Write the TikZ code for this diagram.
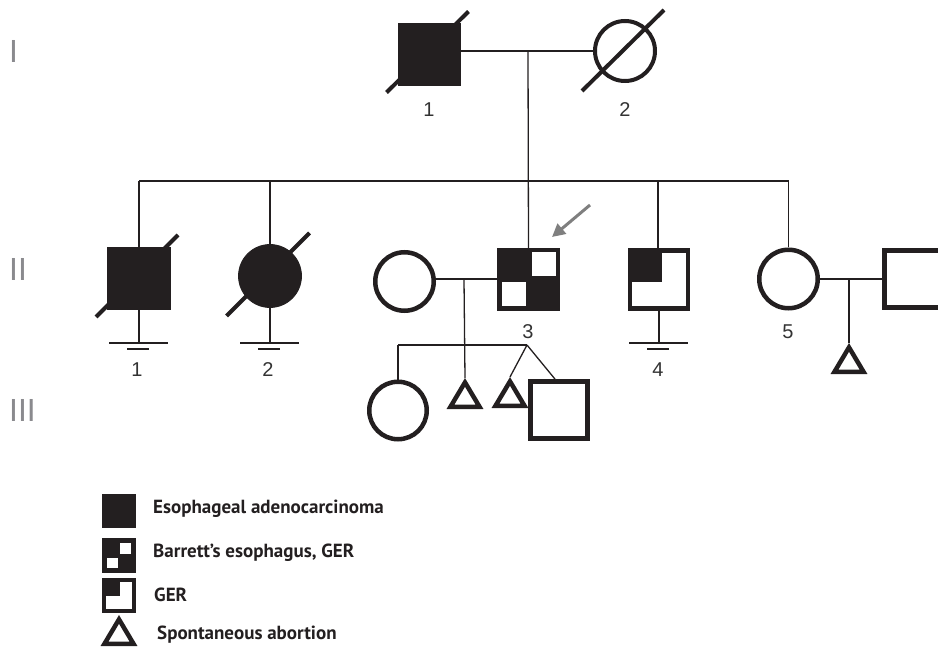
\documentclass[tikz,border=0pt]{standalone}
\usepackage{fontspec}
\usetikzlibrary{calc,arrows.meta}
\newfontfamily\lsans{Liberation Sans}
\newfontfamily\ptsans{PT Sans}
\definecolor{ink}{HTML}{231F20}
\definecolor{gengray}{HTML}{8A8A8E}
\definecolor{numgray}{HTML}{333333}
\definecolor{arrgray}{HTML}{7F7F7F}
\tikzset{
  conn/.style={draw=ink, line width=1.3pt},
  sqthick/.style={rectangle, draw=ink, line width=4.8pt, minimum size=58pt, inner sep=0pt, fill=white},
  sqfill/.style={rectangle, draw=ink, fill=ink, line width=0.8pt, minimum size=62.5pt, inner sep=0pt},
  cithick/.style={circle, draw=ink, line width=4.5pt, minimum size=58.5pt, inner sep=0pt, fill=white},
  cifill/.style={circle, draw=ink, fill=ink, line width=0.8pt, minimum size=63pt, inner sep=0pt},
  slashline/.style={draw=ink, line width=4pt},
  numlbl/.style={font=\lsans\fontsize{20}{22}\selectfont, text=numgray, inner sep=0pt},
  genlbl/.style={font=\lsans\fontsize{32}{34}\selectfont, text=gengray, inner sep=0pt, anchor=west},
  leglbl/.style={font=\ptsans\bfseries\fontsize{19}{21}\selectfont, text=ink, inner sep=0pt, anchor=west},
  abort/.pic={\draw[ink, line width=4.5pt, line join=miter] (0,4.4) -- (-14.5,28.75) -- (14.5,28.75) -- cycle;}
}
\begin{document}
\begin{tikzpicture}[x=1pt,y=-1pt]
\useasboundingbox (0,0) rectangle (938,647);
\clip (0,0) rectangle (938,647);

% generation labels
\node[genlbl] (gI) at (9,51.5) {I};
\node[genlbl] (gII) at (9,269.5) {II};
\node[genlbl] (gIII) at (9,410) {III};

% ---------- generation I ----------
\node[sqfill] (i1) at (429.5,54.5) {};
\node[cithick, line width=4pt, minimum size=60pt] (i2) at (625,51) {};
\draw[slashline] ($(i1)+(-43,38)$) -- ($(i1)+(39,-43)$);
\draw[slashline] ($(i2)+(-43,40)$) -- ($(i2)+(39,-41)$);
\node[numlbl] (l-i1) at (429,110) {1};
\node[numlbl] (l-i2) at (625,110) {2};
\coordinate (m1) at (528,51);
\draw[conn] (i1.east |- m1) -- (i2.west |- m1);

% ---------- generation II ----------
\node[sqfill] (ii1) at (139,278.5) {};
\node[cifill] (ii2) at (270,276) {};
\node[cithick] (sp3) at (404.5,281.5) {};
\node[sqthick, fill=ink] (ii3) at (528.5,279.5) {};
\node[sqthick] (ii4) at (659,279.5) {};
\node[cithick] (ii5) at (788.5,279) {};
\node[sqthick, minimum size=57pt] (sp5) at (913,279) {};

\draw[slashline] ($(ii1)+(-43,38.5)$) -- ($(ii1)+(39,-43.5)$);
\draw[slashline] ($(ii2)+(-43.5,40)$) -- ($(ii2)+(39.5,-43)$);

% pattern of II-3
\fill[white] ($(ii3)+(3,-27)$) rectangle ($(ii3)+(27,-3)$);
\fill[white] ($(ii3)+(-27,3)$) rectangle ($(ii3)+(-3,27)$);
% pattern of II-4
\fill[ink] ($(ii4)+(-31,-31.5)$) rectangle ($(ii4)+(3,2.5)$);

% sibship line II
\coordinate (sib2) at (528,181);
\draw[conn] (ii1.north |- sib2) -- (ii5.north |- sib2);
\draw[conn] (ii1.north |- sib2) -- (ii1.north);
\draw[conn] (ii2.north |- sib2) -- (ii2.north);
\draw[conn] (m1) -- (ii3.north);
\draw[conn] ($(ii4.north |- sib2)+(-1,0)$) -- ($(ii4.north)+(-1,0)$);
\draw[conn] (ii5.north |- sib2) -- (ii5.north);

% no-offspring marks
\foreach \n in {ii1,ii2,ii4}{
  \draw[conn] (\n.south) -- ($(\n.south |- 0,343)$);
  \draw[conn] ($(\n.south |- 0,343)+(-30,0)$) -- ($(\n.south |- 0,343)+(29,0)$);
  \draw[conn] ($(\n.south |- 0,349)+(-12,0)$) -- ($(\n.south |- 0,349)+(10,0)$);
}

\node[numlbl] (l-ii1) at (137,370) {1};
\node[numlbl] (l-ii2) at (268,370) {2};
\node[numlbl] (l-ii3) at (528,332) {3};
\node[numlbl] (l-ii4) at (658,370) {4};
\node[numlbl] (l-ii5) at (788,332) {5};

% proband arrow
\coordinate (arrS) at (590,205);
\coordinate (arrE) at (552,237);
\draw[arrgray, line width=3pt, -{Triangle[length=13pt,width=13pt]}] (arrS) -- (arrE);

% marriage II-3
\coordinate (m3) at (464,279);
\draw[conn] (sp3.east |- m3) -- (ii3.west |- m3);
% marriage II-5
\coordinate (m5) at (849,279);
\draw[conn] (ii5.east |- m5) -- (sp5.west |- m5);
\coordinate (a5) at (849,343);
\draw[conn] (m5) -- (a5);
\pic at (a5) {abort};

% ---------- generation III ----------
\node[cithick, minimum size=57.5pt] (iii1) at (398,410.5) {};
\coordinate (a2) at (465,378);
\coordinate (a3) at (510,377);
\node[sqthick, minimum size=57pt] (iii4) at (559,410) {};
\pic at (a2) {abort};
\pic at (a3) {abort};

\coordinate (sib3) at (464,345);
\coordinate (tw) at (527,345);
\draw[conn] (iii1.north |- sib3) -- (tw);
\draw[conn] (iii1.north |- sib3) -- (iii1.north);
\draw[conn] (m3) -- (a2);
\draw[conn] (tw) -- (a3);
\draw[conn] (tw) -- ($(iii4.north)+(-4,0)$);

% ---------- legend ----------
\node[rectangle, fill=ink, minimum size=34pt, inner sep=0pt] (k1) at (119,511) {};
\node[rectangle, fill=ink, minimum size=34.5pt, inner sep=0pt] (k2) at (119,555.5) {};
\fill[white] ($(k2)+(1,-12.5)$) rectangle ($(k2)+(12,-1.5)$);
\fill[white] ($(k2)+(-12,2)$) rectangle ($(k2)+(-1,12.5)$);
\node[rectangle, fill=ink, minimum size=34.5pt, inner sep=0pt] (k3) at (119,595.5) {};
\fill[white] ($(k3)+(-13,-13.5)$) rectangle ($(k3)+(13,13.5)$);
\fill[ink] ($(k3)+(-17,-17.5)$) rectangle ($(k3)+(1,0.5)$);
\coordinate (k4) at (119,615);
\pic at (k4) {abort};

\node[leglbl] (t1) at (153,509) {Esophageal adenocarcinoma};
\node[leglbl] (t2) at (153,553) {Barrett’s esophagus, GER};
\node[leglbl] (t3) at (154,595) {GER};
\node[leglbl] (t4) at (157,635) {Spontaneous abortion};
\end{tikzpicture}
\end{document}
